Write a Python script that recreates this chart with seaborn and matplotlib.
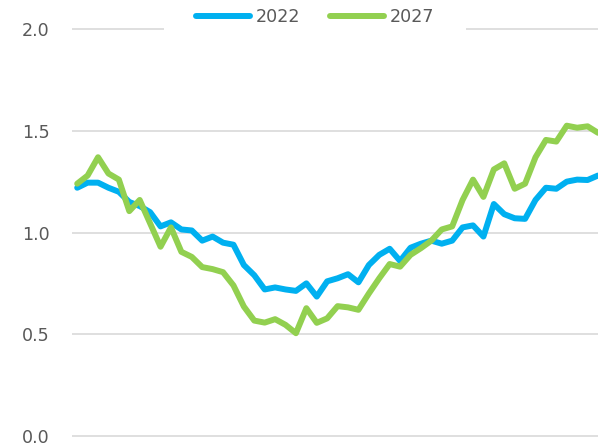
import matplotlib
matplotlib.use("Agg")
import matplotlib.pyplot as plt
import seaborn as sns
import pandas as pd
import numpy as np

# Monthly index values for the two scenarios
period = list(range(51))
series_2022 = [1.22, 1.245, 1.245, 1.22, 1.20, 1.15, 1.13, 1.10, 1.03, 1.05,
               1.015, 1.01, 0.96, 0.98, 0.95, 0.94, 0.84, 0.79, 0.72, 0.73,
               0.72, 0.713, 0.75, 0.685, 0.76, 0.775, 0.795, 0.755, 0.84, 0.89,
               0.92, 0.86, 0.925, 0.945, 0.96, 0.945, 0.96, 1.025, 1.035, 0.98,
               1.14, 1.09, 1.07, 1.067, 1.16, 1.22, 1.215, 1.25, 1.26, 1.258,
               1.28]
series_2027 = [1.24, 1.28, 1.37, 1.29, 1.26, 1.105, 1.16, 1.045, 0.93, 1.025,
               0.905, 0.88, 0.83, 0.82, 0.805, 0.74, 0.636, 0.567, 0.557, 0.574,
               0.546, 0.505, 0.628, 0.556, 0.578, 0.638, 0.632, 0.62, 0.70, 0.775,
               0.845, 0.832, 0.89, 0.923, 0.96, 1.015, 1.03, 1.16, 1.26, 1.175,
               1.31, 1.34, 1.215, 1.24, 1.37, 1.455, 1.447, 1.525, 1.515, 1.522,
               1.49]
series_names = ["2022", "2027"]
y_ticks = [0.0, 0.5, 1.0, 1.5, 2.0]
y_tick_labels = ["0.0", "0.5", "1.0", "1.5", "2.0"]

colors = {"2022": "#00B0F0", "2027": "#92D050"}

df = pd.DataFrame({
    "period": period * 2,
    "value": series_2022 + series_2027,
    "series": [series_names[0]] * len(period) + [series_names[1]] * len(period),
})

sns.set_theme(style="white")
plt.rcParams["font.family"] = ["DejaVu Sans"]

W, H = 598, 447
fig = plt.figure(figsize=(W / 100, H / 100), dpi=100)
fig.patch.set_facecolor("white")

# plot area in pixel terms
left_px, right_px = 72, 598
top_px, bottom_px = 25, 440
ax = fig.add_axes([left_px / W, 1 - bottom_px / H,
                   (right_px - left_px) / W, (bottom_px - top_px) / H])

sns.lineplot(data=df, x="period", y="value", hue="series",
             palette=colors, linewidth=4.3, ax=ax, legend=False)
for line in ax.lines:
    line.set_solid_joinstyle("round")
    line.set_solid_capstyle("round")

ax.set_xlim(-0.5, 50.0)
ax.set_ylim(-0.02, 2.02)
ax.set_yticks(y_ticks)
ax.set_yticklabels(y_tick_labels)
ax.set_xticks([])
ax.set_xlabel("")
ax.set_ylabel("")
ax.yaxis.grid(True, color="#D9D9D9", linewidth=1.2)
ax.set_axisbelow(True)
for s in ax.spines.values():
    s.set_visible(False)
ax.tick_params(axis="y", length=0, pad=16, labelsize=12.6, labelcolor="#595959")

handles = [plt.Line2D([0], [0], color=colors[n], linewidth=4.3,
                      solid_capstyle="round") for n in series_names]
leg = ax.legend(handles, series_names, loc="center",
                bbox_to_anchor=(315 / W, 1 - 17 / H),
                bbox_transform=fig.transFigure, ncol=2, frameon=True,
                fontsize=12.6, handlelength=3.1, handletextpad=0.3,
                columnspacing=1.7, borderpad=1.85, borderaxespad=0)
leg.get_frame().set_facecolor("white")
leg.get_frame().set_edgecolor("none")
leg.get_frame().set_alpha(1.0)
for t in leg.get_texts():
    t.set_color("#595959")

fig.savefig("out.png", dpi=100, facecolor="white")
